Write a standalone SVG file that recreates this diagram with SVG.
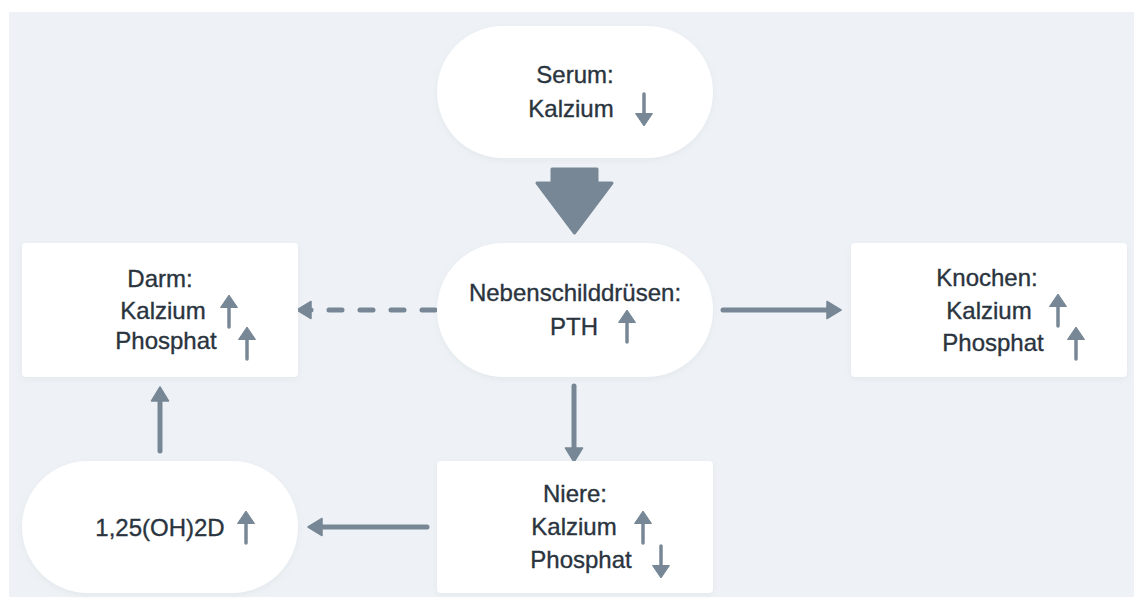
<svg xmlns="http://www.w3.org/2000/svg" width="1134" height="599" viewBox="0 0 1134 599">
  <style>
    .bg { fill: #eef2f6; }
    .node { fill: #ffffff; filter: url(#sh); }
    .t { font-family: "Liberation Sans", Arial, sans-serif; font-size: 24px; fill: #2a343e; stroke: #2a343e; stroke-width: 0.35; text-anchor: middle; }
    .conn { stroke: #778795; stroke-width: 5; fill: none; stroke-linecap: round; }
    .ico { fill: #778795; }
    .stem { stroke: #778795; stroke-width: 3.5; stroke-linecap: round; }
  </style>
  <defs>
    <filter id="sh" x="-10%" y="-10%" width="120%" height="130%">
      <feDropShadow dx="0" dy="2" stdDeviation="3" flood-color="#8a99a8" flood-opacity="0.12"/>
    </filter>
    <marker id="ah" viewBox="0 0 16 20" markerUnits="userSpaceOnUse" markerWidth="16" markerHeight="20" refX="9" refY="10" orient="auto">
      <path d="M1,1.5 L15,10 L1,18.5 Z" fill="#778795" stroke="#778795" stroke-width="1.5" stroke-linejoin="round"/>
    </marker>
    <g id="up">
      <line class="stem" x1="0" y1="8" x2="0" y2="32"/>
      <path class="ico" d="M0,0 L8.5,12.5 L-8.5,12.5 Z" stroke="#778795" stroke-width="1" stroke-linejoin="round"/>
    </g>
    <g id="down">
      <line class="stem" x1="0" y1="1" x2="0" y2="25"/>
      <path class="ico" d="M0,33 L8.5,20.5 L-8.5,20.5 Z" stroke="#778795" stroke-width="1" stroke-linejoin="round"/>
    </g>
  </defs>

  <rect class="bg" x="9" y="12" width="1125" height="585"/>

  <g id="connectors">
    <path d="M552,169 L597,169 L597,183 L612,183 L574.5,233 L537,183 L552,183 Z" fill="#778795" stroke="#778795" stroke-width="3" stroke-linejoin="round"/>
    <line class="conn" x1="435" y1="310" x2="303" y2="310" stroke-dasharray="13 18" marker-end="url(#ah)"/>
    <line class="conn" x1="723" y1="310" x2="835" y2="310" marker-end="url(#ah)"/>
    <line class="conn" x1="574" y1="386" x2="574" y2="456" marker-end="url(#ah)"/>
    <line class="conn" x1="427" y1="527" x2="314" y2="527" marker-end="url(#ah)"/>
    <line class="conn" x1="160" y1="451" x2="160" y2="393" marker-end="url(#ah)"/>
  </g>

  <g id="serum">
    <rect class="node" x="437" y="26" width="276" height="132" rx="66"/>
    <text class="t" x="575" y="83">Serum:</text>
    <text class="t" x="571" y="117">Kalzium</text>
    <use href="#down" x="644" y="93"/>
  </g>

  <g id="darm">
    <rect class="node" x="22" y="243" width="276" height="134" rx="4"/>
    <text class="t" x="160" y="287">Darm:</text>
    <text class="t" x="163" y="319">Kalzium</text>
    <text class="t" x="166" y="349">Phosphat</text>
    <use href="#up" x="229" y="295"/>
    <use href="#up" x="247" y="327"/>
  </g>

  <g id="nebenschilddruesen">
    <rect class="node" x="437" y="243" width="276" height="134" rx="67"/>
    <text class="t" x="575" y="301">Nebenschilddrüsen:</text>
    <text class="t" x="574" y="335">PTH</text>
    <use href="#up" x="627" y="310"/>
  </g>

  <g id="knochen">
    <rect class="node" x="851" y="243" width="276" height="134" rx="4"/>
    <text class="t" x="987" y="286">Knochen:</text>
    <text class="t" x="989" y="319">Kalzium</text>
    <text class="t" x="993" y="351">Phosphat</text>
    <use href="#up" x="1058" y="294"/>
    <use href="#up" x="1076" y="327"/>
  </g>

  <g id="niere">
    <rect class="node" x="437" y="461" width="276" height="132" rx="4"/>
    <text class="t" x="575" y="502">Niere:</text>
    <text class="t" x="574" y="535">Kalzium</text>
    <text class="t" x="581" y="568">Phosphat</text>
    <use href="#up" x="643" y="511"/>
    <use href="#down" x="661" y="545"/>
  </g>

  <g id="vitamin-d">
    <rect class="node" x="22" y="461" width="276" height="132" rx="66"/>
    <text class="t" x="160" y="536">1,25(OH)2D</text>
    <use href="#up" x="246" y="511"/>
  </g>
</svg>
